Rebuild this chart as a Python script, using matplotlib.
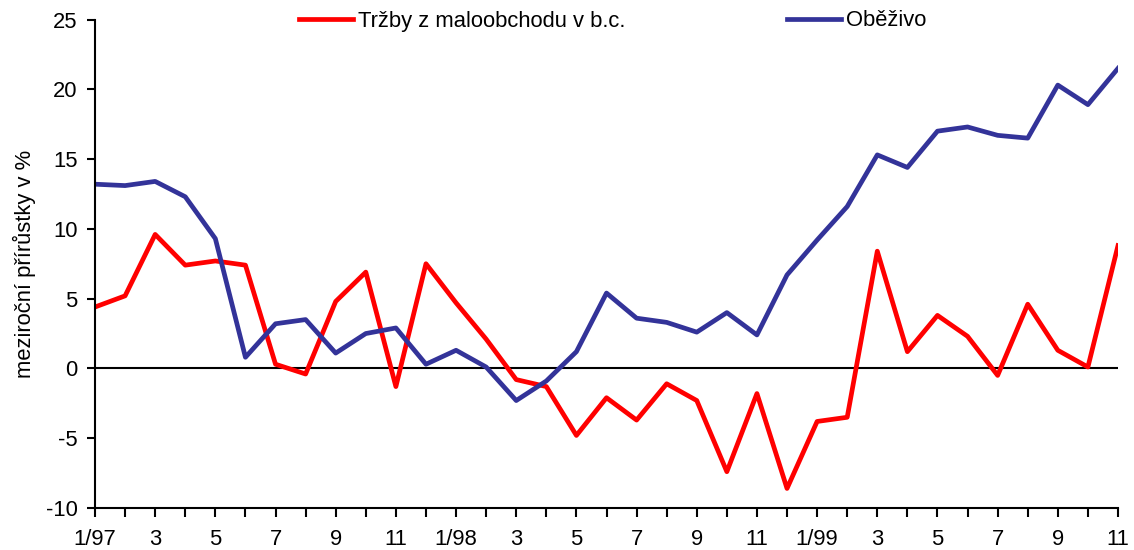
import matplotlib
matplotlib.use('Agg')
import matplotlib.pyplot as plt
import numpy as np

plt.rcParams['font.family'] = ['Liberation Sans', 'DejaVu Sans']
plt.rcParams['axes.unicode_minus'] = False

# monthly labels 1/97 .. 11/99 (only every second one is shown)
months = ['1/97', '2', '3', '4', '5', '6', '7', '8', '9', '10', '11', '12',
          '1/98', '2', '3', '4', '5', '6', '7', '8', '9', '10', '11', '12',
          '1/99', '2', '3', '4', '5', '6', '7', '8', '9', '10', '11']

trzby = [4.4, 5.2, 9.6, 7.4, 7.7, 7.4, 0.3, -0.4, 4.8, 6.9, -1.3, 7.5,
         4.7, 2.1, -0.8, -1.3, -4.8, -2.1, -3.7, -1.1, -2.3, -7.4, -1.8, -8.6,
         -3.8, -3.5, 8.4, 1.2, 3.8, 2.3, -0.5, 4.6, 1.3, 0.1, 8.8]

obezivo = [13.2, 13.1, 13.4, 12.3, 9.3, 0.8, 3.2, 3.5, 1.1, 2.5, 2.9, 0.3,
           1.3, 0.1, -2.3, -0.9, 1.2, 5.4, 3.6, 3.3, 2.6, 4.0, 2.4, 6.7,
           9.2, 11.6, 15.3, 14.4, 17.0, 17.3, 16.7, 16.5, 20.3, 18.9, 21.5]

x = np.arange(len(months))
fs = 15.8

fig = plt.figure(figsize=(11.34, 5.5), dpi=100)
ax = fig.add_axes([95/1134, 42/550, 1023/1134, 488.5/550])

ax.plot(x, trzby, color='#ff0000', lw=3.4, label='Tržby z maloobchodu v b.c.')
ax.plot(x, obezivo, color='#333399', lw=3.4, label='Oběživo')
ax.axhline(0, color='black', lw=1.5, zorder=1)

ax.set_xlim(0, len(months) - 1)
ax.set_ylim(-10, 25)
ax.set_yticks(np.arange(-10, 26, 5))
ax.set_xticks(x)
ax.set_xticklabels([m if i % 2 == 0 else '' for i, m in enumerate(months)])

for s in ['top', 'right']:
    ax.spines[s].set_visible(False)
for s in ['left', 'bottom']:
    ax.spines[s].set_linewidth(1.5)

ax.tick_params(axis='y', direction='out', length=6, width=1.5, pad=6.5, labelsize=fs)
ax.tick_params(axis='x', direction='out', length=6.5, width=1.5, pad=8.5, labelsize=fs)

ax.set_ylabel('meziroční přírůstky v %', fontsize=fs, labelpad=7)

fig.legend(loc='center left', bbox_to_anchor=(299/1134, 1 - 21/550), ncol=2,
           frameon=False, fontsize=fs, borderpad=0, borderaxespad=0,
           handlelength=2.47, handletextpad=0.23, columnspacing=7.35)

fig.savefig('out.png', dpi=100)
